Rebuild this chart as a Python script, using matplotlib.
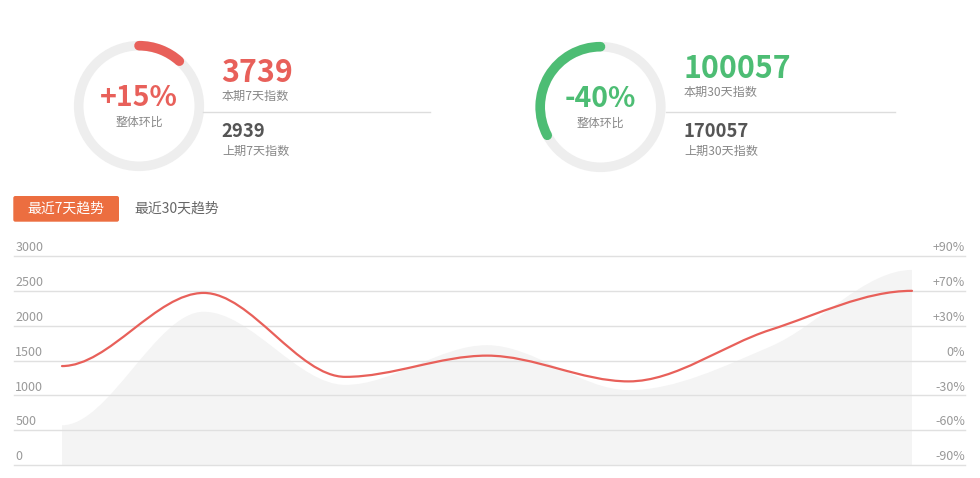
import numpy as np
import matplotlib
matplotlib.use("Agg")
import matplotlib.pyplot as plt
from matplotlib.path import Path
from matplotlib.patches import PathPatch, Arc, Circle, FancyBboxPatch
from matplotlib.transforms import ScaledTranslation

plt.rcParams['font.family'] = ['Noto Sans CJK SC', 'DejaVu Sans']

# ---------------------------------------------------------------------------
# Data
# ---------------------------------------------------------------------------
days = ["D1", "D2", "D3", "D4", "D5", "D6", "D7"]
index_values = [1420, 2470, 1265, 1570, 1200, 1940, 2500]      # red line
compare_values = [570, 2200, 1150, 1720, 1075, 1700, 2800]     # grey area

left_ticks = [0, 500, 1000, 1500, 2000, 2500, 3000]
right_labels = ["-90%", "-60%", "-30%", "0%", "+30%", "+70%", "+90%"]

gauge_pct = ["+15%", "-40%"]
current_vals = [3739, 100057]
current_names = ["本期7天指数", "本期30天指数"]
prev_vals = [2939, 170057]
prev_names = ["上期7天指数", "上期30天指数"]
ratio_name = "整体环比"
tab_names = ["最近7天趋势", "最近30天趋势"]

RED = "#e8605a"
GREEN = "#4dbd74"
ORANGE = "#ec6e40"
GRID = "#e0e0e0"

W, H, DPI = 980, 478, 100
fig = plt.figure(figsize=(W / DPI, H / DPI), dpi=DPI)


def smooth_path(xs, ys, base=None):
    """Smooth bezier through the points: flat at the ends and at turning points."""
    xs = np.asarray(xs, float)
    ys = np.asarray(ys, float)
    n = len(xs)
    m = np.zeros(n)
    for i in range(1, n - 1):
        d0 = ys[i] - ys[i - 1]
        d1 = ys[i + 1] - ys[i]
        if d0 * d1 > 0:
            m[i] = (ys[i + 1] - ys[i - 1]) / (xs[i + 1] - xs[i - 1])
    verts = [(xs[0], ys[0])]
    codes = [Path.MOVETO]
    for i in range(n - 1):
        h = (xs[i + 1] - xs[i]) / 3
        verts += [(xs[i] + h, ys[i] + m[i] * h),
                  (xs[i + 1] - h, ys[i + 1] - m[i + 1] * h),
                  (xs[i + 1], ys[i + 1])]
        codes += [Path.CURVE4] * 3
    if base is not None:
        verts += [(xs[-1], base), (xs[0], base), (xs[0], base)]
        codes += [Path.LINETO, Path.LINETO, Path.CLOSEPOLY]
    return Path(verts, codes)


# ---------------------------------------------------------------------------
# Trend chart
# ---------------------------------------------------------------------------
x0_px, x1_px, ytop_px, ybot_px = 14, 965, 256, 465
ax = fig.add_axes([x0_px / W, 1 - ybot_px / H, (x1_px - x0_px) / W, (ybot_px - ytop_px) / H])
step = (912 - 62) / (len(days) - 1)
ax.set_xlim(-(62 - x0_px) / step, len(days) - 1 + (x1_px - 912) / step)
ax.set_ylim(0, 3000)
xs = np.arange(len(days))

ax.add_patch(PathPatch(smooth_path(xs, compare_values, base=0),
                       facecolor="#f4f4f4", edgecolor="none", zorder=1))
ax.add_patch(PathPatch(smooth_path(xs, index_values),
                       facecolor="none", edgecolor=RED, lw=1.6, zorder=3,
                       capstyle="round"))
for t in left_ticks:
    ax.axhline(t, color=GRID, lw=1, zorder=2, clip_on=False)

for s in ax.spines.values():
    s.set_visible(False)
ax.set_xticks([])
ax.set_yticks(left_ticks)
ax.set_yticklabels([str(t) for t in left_ticks])
ax.tick_params(axis="y", length=0, pad=-1, labelsize=9, labelcolor="#999999")
up = ScaledTranslation(0, 4.8 / DPI, fig.dpi_scale_trans)
for lab in ax.get_yticklabels():
    lab.set_horizontalalignment("left")
    lab.set_verticalalignment("baseline")
    lab.set_transform(lab.get_transform() + up)

ax2 = ax.twinx()
ax2.set_ylim(0, 3000)
for s in ax2.spines.values():
    s.set_visible(False)
ax2.set_yticks(left_ticks)
ax2.set_yticklabels(right_labels)
ax2.tick_params(axis="y", length=0, pad=0, labelsize=9, labelcolor="#999999")
for lab in ax2.get_yticklabels():
    lab.set_horizontalalignment("right")
    lab.set_verticalalignment("baseline")
    lab.set_transform(lab.get_transform() + up)

# ---------------------------------------------------------------------------
# Header: gauges, numbers, tabs (pixel coordinates)
# ---------------------------------------------------------------------------
ov = fig.add_axes([0, 0, 1, 1])
ov.set_xlim(0, W)
ov.set_ylim(H, 0)
ov.axis("off")
ov.patch.set_visible(False)

centers = [(139, 106), (600.5, 107)]
arc_angles = [(-90, -48), (-208, -90)]      # data angles (y axis points down)
colors = [RED, GREEN]
num_x = [221, 683]
num_base = [81.7, 78.3]
div_span = [(203, 430), (666, 895)]
ring_w = 9.6 * 72 / DPI

for k in range(2):
    cx, cy = centers[k]
    ov.add_patch(Circle((cx, cy), 60.3, fill=False, ec="#eeeeee", lw=ring_w))
    a = Arc((cx, cy), 120.6, 120.6, theta1=arc_angles[k][0], theta2=arc_angles[k][1],
            ec=colors[k], lw=ring_w)
    a.set_capstyle("round")
    ov.add_patch(a)
    ov.text(cx, cy - 0.5, gauge_pct[k], color=colors[k], fontsize=20.5,
            fontweight="bold", ha="center", va="baseline")
    ov.text(cx, cy + 16, ratio_name, color="#888888", fontsize=8.6,
            ha="center", va="center")
    ov.text(num_x[k], num_base[k], f"{current_vals[k]}", color=colors[k],
            fontsize=21.8, fontweight="bold", ha="left", va="baseline")
    ov.text(num_x[k] + 1, num_base[k] + 14.5, current_names[k], color="#888888",
            fontsize=8.7, ha="left", va="center")
    ov.plot(div_span[k], [111.7, 111.7], color="#dddddd", lw=1)
    ov.text(num_x[k], 137, f"{prev_vals[k]}", color="#555555", fontsize=13.3,
            fontweight="bold", ha="left", va="baseline")
    ov.text(num_x[k] + 1, 151.7, prev_names[k], color="#888888",
            fontsize=8.7, ha="left", va="center")

ov.add_patch(FancyBboxPatch((13.3, 196), 105.7, 25.7,
                            boxstyle="round,pad=0,rounding_size=2",
                            fc=ORANGE, ec="none"))
ov.text(66, 209, tab_names[0], color="white", fontsize=10, ha="center", va="center")
ov.text(134, 209, tab_names[1], color="#666666", fontsize=10, ha="left", va="center")

fig.savefig("out.png", dpi=DPI)
